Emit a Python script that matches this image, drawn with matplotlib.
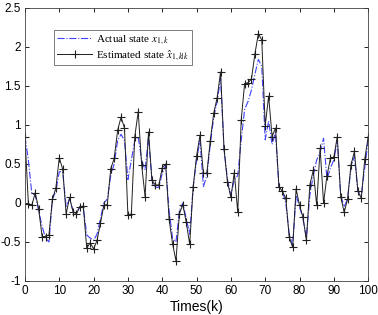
import numpy as np
import matplotlib.pyplot as plt

plt.rcParams['font.family'] = ['Liberation Sans', 'DejaVu Sans']
plt.rcParams['mathtext.fontset'] = 'stix'

# time steps
k = np.arange(0, 101)

# estimated state x_hat_{1,k|k} (black, + markers)
estimated = [
    0.85, -0.01, -0.03, 0.13, -0.08, -0.43, -0.43, -0.41, 0.05, 0.19,
    0.58, 0.43, -0.14, 0.07, -0.11, -0.14, -0.05, -0.04, -0.58, -0.51,
    -0.59, -0.48, -0.26, -0.03, -0.02, 0.44, 0.57, 0.93, 1.10, 0.96,
    -0.16, -0.14, 0.85, 1.17, 0.49, 0.08, 0.91, 0.29, 0.23, 0.23,
    0.45, 0.50, -0.21, -0.52, -0.74, -0.14, -0.02, -0.25, -0.53, 0.20,
    0.60, 0.87, 0.38, 0.38, 0.80, 1.15, 1.35, 1.68, 0.69, 0.27,
    0.07, 0.39, -0.12, 1.06, 1.53, 1.54, 1.59, 1.91, 2.17, 2.09,
    0.99, 1.37, 0.85, 0.96, 0.21, 0.15, 0.06, -0.44, -0.57, 0.18,
    -0.03, -0.18, -0.48, 0.23, 0.42, -0.03, 0.70, 0.00, 0.35, 0.57,
    0.59, 0.85, 0.08, -0.12, 0.05, 0.49, 0.66, 0.15, 0.06, 0.56,
    0.85,
]

# actual state x_{1,k} (blue dash-dot)
actual = [
    0.85, 0.55, 0.12, 0.10, -0.10, -0.30, -0.45, -0.50, 0.05, 0.15,
    0.40, 0.40, -0.05, 0.05, -0.10, -0.12, -0.05, -0.05, -0.41, -0.45,
    -0.48, -0.40, -0.20, 0.00, 0.05, 0.35, 0.50, 0.80, 0.88, 0.80,
    0.30, 0.55, 0.80, 0.85, 0.55, 0.42, 0.85, 0.29, 0.20, 0.20,
    0.38, 0.48, -0.10, -0.45, -0.50, -0.10, 0.00, -0.20, -0.40, 0.20,
    0.55, 0.80, 0.21, 0.35, 0.75, 1.10, 1.30, 1.60, 0.70, 0.30,
    0.10, 0.30, 0.35, 0.80, 1.20, 1.30, 1.45, 1.65, 1.84, 1.75,
    0.81, 1.05, 0.75, 0.90, 0.20, 0.15, 0.00, -0.40, -0.55, 0.10,
    -0.05, -0.20, -0.45, 0.10, 0.35, 0.55, 0.65, 0.83, 0.30, 0.45,
    0.55, 0.80, 0.10, -0.05, 0.05, 0.45, 0.60, 0.15, 0.10, 0.45,
    0.80,
]

fig = plt.figure(figsize=(3.78, 3.15), dpi=100)
ax = fig.add_axes([0.066, 0.108, 0.908, 0.867])

ax.plot(k, actual, color='#4040ff', linestyle='-.', linewidth=0.8,
        label=r'Actual state $x_{1,k}$')
ax.plot(k, estimated, color='#202020', linestyle='-', linewidth=0.7,
        marker='+', markersize=6, markeredgewidth=0.8,
        label=r'Estimated state $\hat{x}_{1,k|k}$')

ax.set_xlim(0, 100)
ax.set_ylim(-1, 2.5)
ax.set_xticks(np.arange(0, 101, 10))
ax.set_yticks(np.arange(-1, 2.51, 0.5))
ax.set_yticklabels(['-1', '-0.5', '0', '0.5', '1', '1.5', '2', '2.5'])
ax.tick_params(direction='in', top=True, right=True, labelsize=8.5,
               length=3, width=0.6, pad=3)
for s in ax.spines.values():
    s.set_linewidth(0.6)
    s.set_color('#404040')

ax.set_xlabel('Times(k)', fontsize=10, labelpad=2)

leg = ax.legend(loc='upper left', bbox_to_anchor=(0.085, 0.918),
                prop={'family': 'Liberation Serif', 'size': 8},
                frameon=True, fancybox=False, edgecolor='#404040',
                handlelength=3.2, borderpad=0.25, labelspacing=0.1,
                handletextpad=0.3, borderaxespad=0.0)
leg.get_frame().set_linewidth(0.6)

plt.savefig('out.png', dpi=100)
